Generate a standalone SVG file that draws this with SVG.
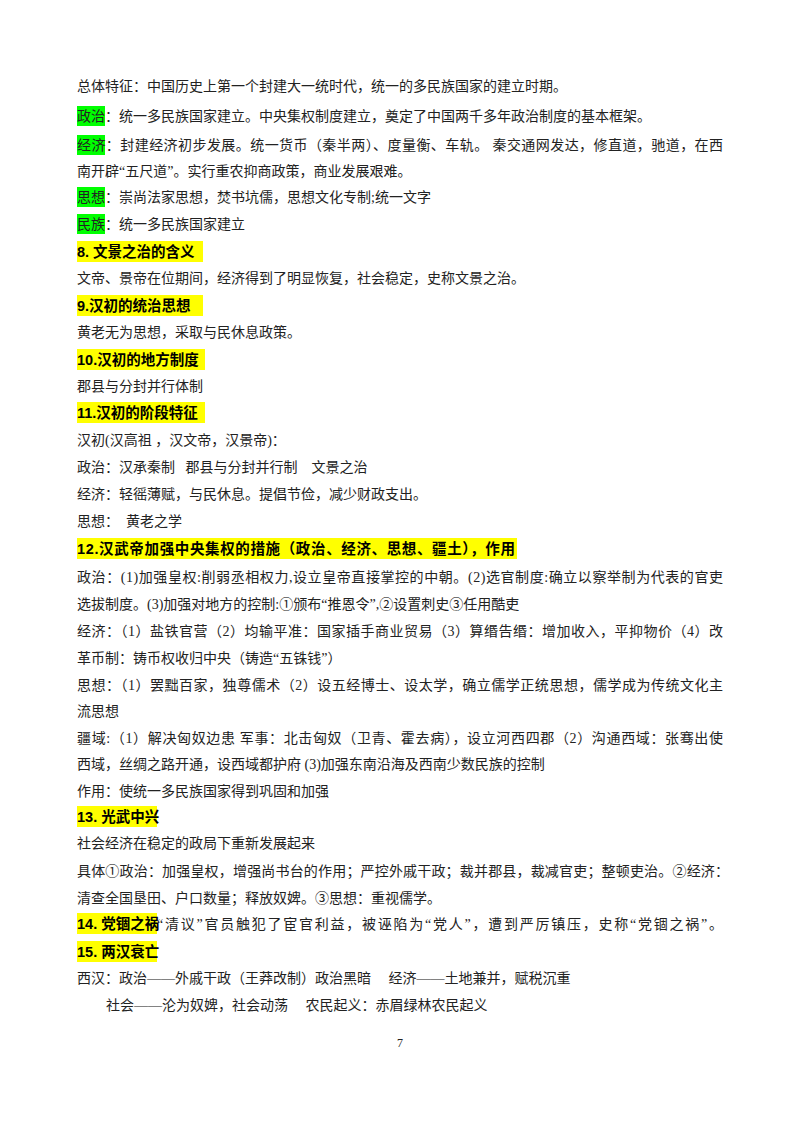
<svg xmlns="http://www.w3.org/2000/svg" width="800" height="1132" viewBox="0 0 800 1132">
<style>
text{font-family:"Liberation Serif","Noto Sans CJK SC",serif;font-size:14px;fill:#222}
.h{font-family:"Liberation Sans","Noto Sans CJK SC",sans-serif;font-weight:bold;font-size:14.5px;fill:#000}
.g{fill:#00ff00}.y{fill:#ffff00}
</style>
<rect width="800" height="1132" fill="#fff"/>
<g id="highlights">
<rect class="g" x="77" y="106" width="28" height="20"/>
<rect class="g" x="77" y="135" width="28" height="20"/>
<rect class="g" x="77" y="187" width="28" height="20"/>
<rect class="g" x="77" y="214" width="28" height="20"/>
<rect class="y" x="77" y="241" width="126" height="21"/>
<rect class="y" x="77" y="295" width="126" height="21"/>
<rect class="y" x="77" y="349" width="128" height="21"/>
<rect class="y" x="77" y="402" width="128" height="21"/>
<rect class="y" x="77" y="538" width="440" height="21"/>
<rect class="y" x="77" y="806" width="80" height="21"/>
<rect class="y" x="77" y="913" width="80" height="21"/>
<rect class="y" x="77" y="941" width="80" height="21"/>
</g>
<g id="text">
<text x="77" y="91">总体特征：中国历史上第一个封建大一统时代，统一的多民族国家的建立时期。</text>
<text x="77" y="121">政治：统一多民族国家建立。中央集权制度建立，奠定了中国两千多年政治制度的基本框架。</text>
<text x="77" y="150" textLength="646" lengthAdjust="spacing">经济：封建经济初步发展。统一货币（秦半两）、度量衡、车轨。 秦交通网发达，修直道，驰道，在西</text>
<text x="77" y="176">南开辟“五尺道”。实行重农抑商政策，商业发展艰难。</text>
<text x="77" y="202">思想：崇尚法家思想，焚书坑儒，思想文化专制;统一文字</text>
<text x="77" y="229">民族：统一多民族国家建立</text>
<text class="h" x="77" y="257">8. 文景之治的含义</text>
<text x="77" y="283">文帝、景帝在位期间，经济得到了明显恢复，社会稳定，史称文景之治。</text>
<text class="h" x="77" y="311">9.汉初的统治思想</text>
<text x="77" y="337">黄老无为思想，采取与民休息政策。</text>
<text class="h" x="77" y="365">10.汉初的地方制度</text>
<text x="77" y="391">郡县与分封并行体制</text>
<text class="h" x="77" y="418">11.汉初的阶段特征</text>
<text x="77" y="445">汉初(汉高祖 ，汉文帝，汉景帝)：</text>
<text x="77" y="472" xml:space="preserve">政治：汉承秦制   郡县与分封并行制    文景之治</text>
<text x="77" y="499">经济：轻徭薄赋，与民休息。提倡节俭，减少财政支出。</text>
<text x="77" y="526" xml:space="preserve">思想：  黄老之学</text>
<text class="h" x="77" y="554" textLength="438" lengthAdjust="spacing">12.汉武帝加强中央集权的措施（政治、经济、思想、疆土），作用</text>
<text x="77" y="582" textLength="646" lengthAdjust="spacing">政治：(1)加强皇权:削弱丞相权力,设立皇帝直接掌控的中朝。(2)选官制度:确立以察举制为代表的官吏</text>
<text x="77" y="609">选拔制度。(3)加强对地方的控制:①颁布“推恩令”,②设置刺史③任用酷吏</text>
<text x="77" y="636" textLength="646" lengthAdjust="spacing">经济：（1）盐铁官营（2）均输平准：国家插手商业贸易（3）算缗告缗：增加收入，平抑物价（4）改</text>
<text x="77" y="663">革币制：铸币权收归中央（铸造“五铢钱”）</text>
<text x="77" y="690" textLength="646" lengthAdjust="spacing">思想：（1）罢黜百家，独尊儒术（2）设五经博士、设太学，确立儒学正统思想，儒学成为传统文化主</text>
<text x="77" y="716">流思想</text>
<text x="77" y="743" textLength="646" lengthAdjust="spacing">疆域:（1）解决匈奴边患 军事：北击匈奴（卫青、霍去病），设立河西四郡（2）沟通西域：张骞出使</text>
<text x="77" y="769">西域，丝绸之路开通，设西域都护府 (3)加强东南沿海及西南少数民族的控制</text>
<text x="77" y="796">作用：使统一多民族国家得到巩固和加强</text>
<text class="h" x="77" y="822">13. 光武中兴</text>
<text x="77" y="848">社会经济在稳定的政局下重新发展起来</text>
<text x="77" y="876" textLength="652" lengthAdjust="spacing">具体①政治：加强皇权，增强尚书台的作用；严控外戚干政；裁并郡县，裁减官吏；整顿吏治。②经济：</text>
<text x="77" y="903">清查全国垦田、户口数量；释放奴婢。③思想：重视儒学。</text>
<text class="h" x="77" y="929">14. 党锢之祸</text>
<text x="157" y="929" textLength="566" lengthAdjust="spacing">“清议”官员触犯了宦官利益，被诬陷为“党人”，遭到严厉镇压，史称“党锢之祸”。</text>
<text class="h" x="77" y="957">15. 两汉衰亡</text>
<text x="77" y="983" xml:space="preserve">西汉：政治——外戚干政（王莽改制）政治黑暗     经济——土地兼并，赋税沉重</text>
<text x="106" y="1010" xml:space="preserve">社会——沦为奴婢，社会动荡     农民起义：赤眉绿林农民起义</text>
<text x="397" y="1047" style="font-size:12px">7</text>
</g>
</svg>
